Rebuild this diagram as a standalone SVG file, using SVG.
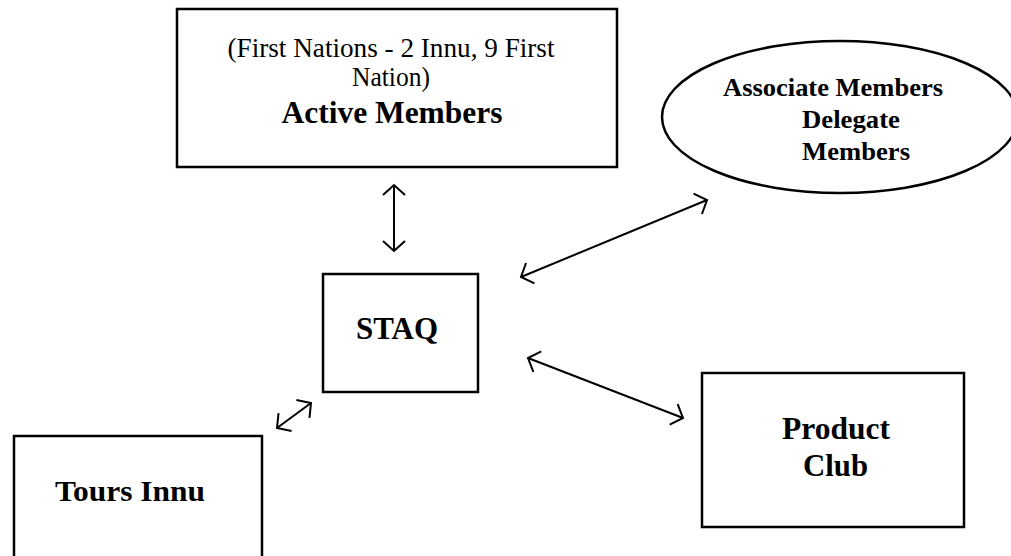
<svg xmlns="http://www.w3.org/2000/svg" width="1011" height="556" viewBox="0 0 1011 556">
<style>
.box{fill:#fff;stroke:#000;stroke-width:2.5}
.t{font-family:"Liberation Serif","Times New Roman",Times,serif;fill:#000}
.b{font-weight:bold}
.c{fill:none;stroke:#000;stroke-width:2}
</style>
<defs>
<marker id="ah" markerUnits="userSpaceOnUse" orient="auto-start-reverse" overflow="visible" markerWidth="1" markerHeight="1">
<path d="M-10,-11 L0,0 L-10,11" fill="none" stroke="#000" stroke-width="2"/>
</marker>
</defs>
<rect width="1011" height="556" fill="#fff"/>
<g id="active-members">
<rect class="box" x="177" y="9" width="440" height="158"/>
<text class="t" x="391" y="57" font-size="27" text-anchor="middle" textLength="327" lengthAdjust="spacingAndGlyphs">(First Nations - 2 Innu, 9 First</text>
<text class="t" x="391" y="86" font-size="27" text-anchor="middle" textLength="78" lengthAdjust="spacingAndGlyphs">Nation)</text>
<text class="t b" x="392" y="123" font-size="31" text-anchor="middle" textLength="221" lengthAdjust="spacingAndGlyphs">Active Members</text>
</g>
<g id="associate-members">
<ellipse class="box" cx="840" cy="117" rx="178" ry="76"/>
<text class="t b" x="723" y="96" font-size="25" textLength="220" lengthAdjust="spacingAndGlyphs">Associate Members</text>
<text class="t b" x="802" y="128" font-size="25" textLength="98" lengthAdjust="spacingAndGlyphs">Delegate</text>
<text class="t b" x="802" y="160" font-size="25" textLength="108" lengthAdjust="spacingAndGlyphs">Members</text>
</g>
<g id="staq">
<rect class="box" x="323" y="274" width="155" height="118"/>
<text class="t b" x="397" y="339" font-size="31" text-anchor="middle" textLength="82" lengthAdjust="spacingAndGlyphs">STAQ</text>
</g>
<g id="tours-innu">
<rect class="box" x="14" y="436" width="248" height="140"/>
<text class="t b" x="130" y="501" font-size="30" text-anchor="middle" textLength="150" lengthAdjust="spacingAndGlyphs">Tours Innu</text>
</g>
<g id="product-club">
<rect class="box" x="702" y="373" width="262" height="154"/>
<text class="t b" x="836" y="439" font-size="31" text-anchor="middle" textLength="108" lengthAdjust="spacingAndGlyphs">Product</text>
<text class="t b" x="835.5" y="476" font-size="31" text-anchor="middle" textLength="65" lengthAdjust="spacingAndGlyphs">Club</text>
</g>
<g id="connectors">
<line class="c" x1="394" y1="185" x2="394" y2="251" marker-start="url(#ah)" marker-end="url(#ah)"/>
<line class="c" x1="521" y1="277" x2="707" y2="200" marker-start="url(#ah)" marker-end="url(#ah)"/>
<line class="c" x1="528" y1="358" x2="683" y2="418" marker-start="url(#ah)" marker-end="url(#ah)"/>
<line class="c" x1="277" y1="428" x2="311" y2="403" marker-start="url(#ah)" marker-end="url(#ah)"/>
</g>
</svg>
